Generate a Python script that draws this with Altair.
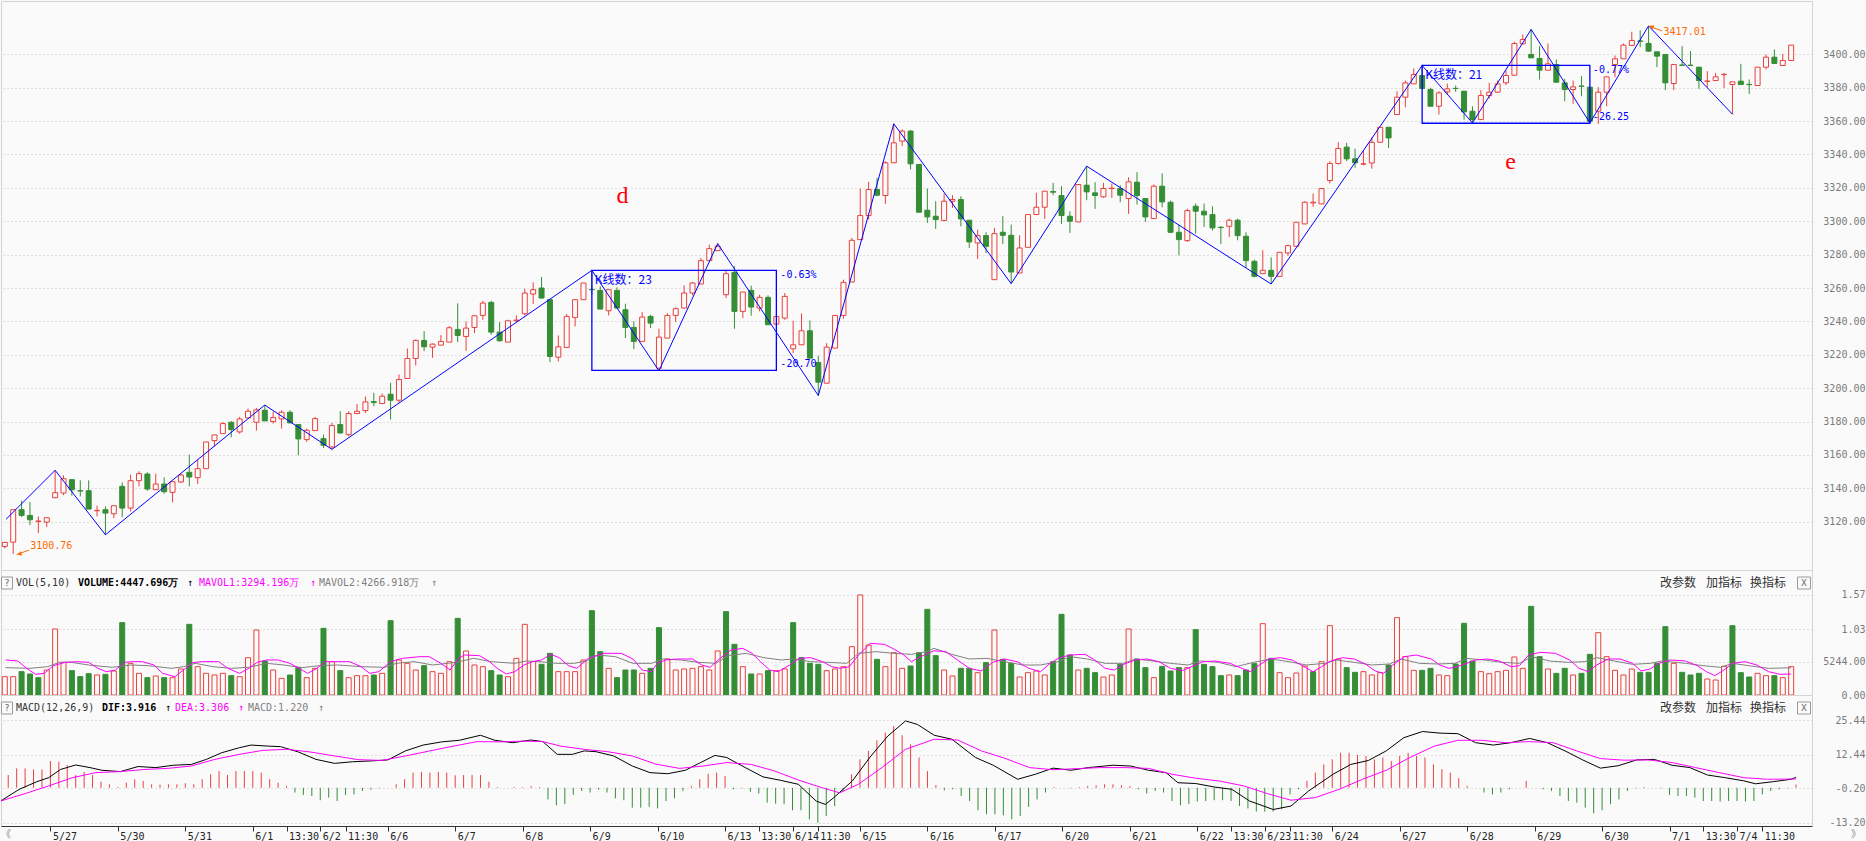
import json
import altair as alt
import pandas as pd

# ---------------- data ----------------
OPEN = [3105.2, 3107.8, 3127.2, 3123.8, 3120.2, 3119.8, 3134.4, 3137.2, 3145.2, 3138.6,
        3138.6, 3126.6, 3127.2, 3124.8, 3141.2, 3128.2, 3144.6, 3148.6, 3139.2, 3142.6,
        3137.6, 3143.8, 3149.6, 3146.4, 3151.8, 3168.6, 3172.8, 3179.6, 3173.8, 3182.2,
        3179.6, 3186.8, 3180.0, 3181.6, 3185.6, 3178.2, 3169.2, 3174.6, 3169.8, 3164.8,
        3178.2, 3172.2, 3184.8, 3186.6, 3192.0, 3190.8, 3196.4, 3192.8, 3205.8, 3217.8,
        3228.6, 3224.6, 3225.8, 3227.6, 3235.2, 3231.0, 3236.4, 3243.6, 3251.4, 3233.6,
        3227.6, 3240.4, 3244.6, 3256.4, 3260.0, 3253.0, 3218.6, 3224.4, 3242.4, 3253.0,
        3259.2, 3258.6, 3246.4, 3258.6, 3247.0, 3236.4, 3228.0, 3243.0, 3212.0, 3230.0,
        3243.6, 3248.0, 3257.0, 3262.4, 3276.4, 3282.4, 3256.0, 3269.4, 3246.0, 3258.6,
        3248.0, 3254.4, 3238.4, 3242.0, 3223.6, 3226.0, 3234.4, 3215.4, 3203.0, 3224.0,
        3243.6, 3263.6, 3289.0, 3303.4, 3319.0, 3315.4, 3335.0, 3348.0, 3354.0, 3334.0,
        3306.6, 3303.0, 3300.4, 3312.0, 3313.0, 3300.6, 3287.0, 3291.4, 3265.0, 3293.4,
        3291.6, 3269.0, 3284.4, 3304.0, 3308.4, 3317.8, 3315.4, 3303.0, 3299.6, 3321.6,
        3317.0, 3314.6, 3319.6, 3319.6, 3313.6, 3323.4, 3313.6, 3301.6, 3321.0, 3311.4,
        3293.4, 3288.4, 3309.0, 3306.0, 3304.0, 3296.4, 3297.0, 3300.6, 3291.0, 3276.0,
        3268.6, 3270.6, 3267.0, 3281.0, 3285.0, 3298.4, 3311.0, 3310.4, 3324.4, 3334.6,
        3344.4, 3337.4, 3334.2, 3334.9, 3347.3, 3356.3, 3363.9, 3374.3, 3382.3, 3387.3,
        3378.9, 3368.9, 3377.5, 3379.6, 3377.9, 3365.9, 3360.9, 3375.3, 3377.3, 3382.9,
        3387.5, 3406.3, 3399.9, 3397.5, 3390.5, 3393.9, 3382.9, 3378.9, 3381.0, 3380.3,
        3365.9, 3377.3, 3393.9, 3397.3, 3405.3, 3408.0, 3406.5, 3401.5, 3399.9, 3382.5,
        3393.6, 3393.5, 3392.3, 3383.8, 3384.3, 3387.8, 3381.9, 3383.9, 3382.0, 3381.3,
        3392.3, 3398.3, 3393.3, 3396.3]
HIGH = [3108.0, 3127.2, 3132.6, 3131.8, 3123.2, 3122.4, 3150.8, 3147.8, 3145.2, 3144.8,
        3144.8, 3129.6, 3129.2, 3129.6, 3143.6, 3148.2, 3150.2, 3149.6, 3148.8, 3146.6,
        3144.0, 3148.8, 3160.2, 3157.2, 3167.8, 3172.0, 3179.8, 3180.2, 3182.8, 3187.8,
        3188.2, 3189.8, 3186.0, 3186.8, 3186.8, 3178.2, 3175.8, 3182.8, 3172.2, 3179.2,
        3186.2, 3186.2, 3190.6, 3195.0, 3197.2, 3196.8, 3203.2, 3208.2, 3223.8, 3229.2,
        3234.2, 3226.8, 3231.8, 3237.2, 3250.8, 3240.0, 3243.4, 3252.4, 3252.4, 3239.6,
        3241.0, 3243.6, 3259.6, 3263.4, 3266.6, 3253.0, 3231.6, 3244.4, 3253.0, 3263.0,
        3270.6, 3261.0, 3259.0, 3260.4, 3250.6, 3240.0, 3245.6, 3244.0, 3235.6, 3245.0,
        3248.4, 3261.6, 3263.6, 3278.0, 3286.0, 3286.6, 3271.0, 3273.0, 3257.6, 3261.4,
        3256.0, 3255.6, 3243.0, 3257.0, 3240.4, 3244.8, 3240.6, 3219.4, 3227.0, 3243.6,
        3265.0, 3290.0, 3319.6, 3323.6, 3326.0, 3336.0, 3358.4, 3355.0, 3354.6, 3334.0,
        3319.6, 3312.0, 3316.4, 3315.6, 3315.0, 3300.6, 3295.0, 3293.4, 3296.0, 3303.0,
        3298.0, 3291.6, 3304.0, 3317.0, 3318.0, 3323.0, 3321.0, 3306.0, 3322.0, 3333.0,
        3323.4, 3323.0, 3322.6, 3321.6, 3326.4, 3329.4, 3313.6, 3322.0, 3328.6, 3312.4,
        3298.0, 3307.6, 3310.6, 3310.6, 3309.0, 3297.0, 3301.6, 3301.6, 3293.4, 3277.0,
        3282.6, 3278.4, 3281.4, 3286.0, 3299.4, 3312.0, 3316.6, 3319.6, 3336.0, 3347.4,
        3347.0, 3343.4, 3342.3, 3350.3, 3356.3, 3356.3, 3377.9, 3384.3, 3391.5, 3393.3,
        3380.0, 3377.9, 3382.5, 3381.3, 3377.9, 3368.9, 3378.5, 3382.9, 3384.3, 3390.3,
        3407.5, 3411.9, 3414.9, 3404.9, 3406.5, 3396.9, 3385.3, 3384.3, 3386.9, 3380.3,
        3380.3, 3386.5, 3399.3, 3406.5, 3413.5, 3414.3, 3417.01, 3401.5, 3399.9, 3393.9,
        3404.9, 3401.9, 3392.3, 3389.9, 3388.9, 3388.9, 3383.5, 3394.3, 3384.9, 3392.3,
        3399.9, 3402.9, 3400.3, 3405.5]
LOW = [3104.0, 3100.76, 3122.8, 3118.0, 3113.2, 3116.8, 3134.4, 3136.0, 3135.6, 3135.2,
       3127.6, 3123.2, 3112.2, 3122.2, 3122.8, 3126.2, 3141.2, 3138.6, 3139.2, 3136.8,
       3131.6, 3143.2, 3141.2, 3142.6, 3151.8, 3165.2, 3172.8, 3170.6, 3172.8, 3182.2,
       3174.6, 3180.4, 3178.8, 3175.8, 3179.2, 3159.8, 3167.8, 3174.6, 3164.2, 3163.4,
       3172.8, 3171.2, 3184.8, 3185.2, 3189.2, 3190.8, 3181.2, 3191.2, 3205.8, 3213.6,
       3222.2, 3218.2, 3225.8, 3227.6, 3227.6, 3222.4, 3233.0, 3241.0, 3232.0, 3228.0,
       3227.6, 3239.6, 3243.6, 3250.4, 3253.6, 3215.6, 3216.0, 3224.4, 3237.0, 3253.0,
       3256.0, 3247.4, 3243.6, 3248.0, 3230.0, 3223.4, 3228.0, 3236.0, 3210.4, 3230.0,
       3239.6, 3247.6, 3255.6, 3262.4, 3276.4, 3282.4, 3254.0, 3235.6, 3242.0, 3243.4,
       3246.0, 3238.0, 3238.4, 3241.0, 3221.0, 3226.0, 3218.0, 3195.6, 3203.0, 3224.0,
       3241.6, 3263.6, 3289.0, 3301.0, 3315.0, 3310.4, 3335.0, 3345.0, 3331.0, 3305.4,
       3299.0, 3295.4, 3300.4, 3308.0, 3297.0, 3284.0, 3277.4, 3281.0, 3265.0, 3286.4,
       3262.6, 3269.0, 3284.4, 3304.0, 3301.4, 3315.6, 3298.4, 3293.0, 3299.6, 3312.6,
       3307.4, 3314.0, 3314.0, 3311.4, 3304.4, 3310.0, 3299.6, 3301.6, 3308.4, 3293.0,
       3279.6, 3287.6, 3292.6, 3296.6, 3294.4, 3286.4, 3290.6, 3288.6, 3272.0, 3266.4,
       3268.6, 3262.4, 3267.0, 3279.4, 3285.0, 3298.4, 3308.6, 3310.4, 3322.6, 3334.0,
       3336.0, 3332.0, 3333.5, 3331.5, 3347.3, 3343.9, 3363.9, 3368.3, 3382.3, 3379.5,
       3368.9, 3363.9, 3375.9, 3377.5, 3360.9, 3358.9, 3360.9, 3373.5, 3376.9, 3381.5,
       3387.5, 3405.9, 3397.9, 3384.9, 3390.5, 3382.9, 3371.9, 3370.3, 3374.9, 3358.9,
       3358.3, 3368.9, 3386.3, 3397.3, 3405.3, 3404.3, 3401.5, 3392.3, 3378.5, 3378.5,
       3392.9, 3392.9, 3379.3, 3380.3, 3384.3, 3379.9, 3364.1, 3381.9, 3376.3, 3381.3,
       3390.9, 3394.5, 3393.3, 3396.3]
CLOSE = [3107.6, 3127.2, 3123.8, 3121.2, 3120.4, 3122.4, 3137.4, 3145.8, 3139.2, 3138.4,
         3127.6, 3126.8, 3125.2, 3129.6, 3128.2, 3144.6, 3148.8, 3139.6, 3142.6, 3138.0,
         3144.0, 3148.0, 3146.8, 3151.8, 3167.8, 3172.0, 3178.8, 3175.2, 3181.6, 3186.2,
         3187.0, 3180.4, 3182.4, 3185.6, 3179.2, 3169.6, 3174.8, 3181.8, 3165.8, 3177.6,
         3173.2, 3184.8, 3186.2, 3191.8, 3191.4, 3195.2, 3192.8, 3205.2, 3217.8, 3228.6,
         3224.8, 3226.4, 3228.0, 3236.2, 3231.6, 3236.0, 3243.4, 3251.0, 3233.6, 3228.4,
         3240.4, 3240.8, 3257.0, 3259.0, 3254.0, 3219.0, 3224.8, 3243.0, 3253.0, 3263.0,
         3259.0, 3247.4, 3259.0, 3248.0, 3236.4, 3228.0, 3242.6, 3239.0, 3230.6, 3243.6,
         3247.6, 3257.0, 3263.0, 3276.4, 3283.6, 3285.0, 3268.6, 3246.0, 3257.6, 3248.6,
         3254.4, 3238.0, 3243.0, 3255.0, 3226.0, 3234.4, 3218.0, 3203.6, 3224.6, 3243.6,
         3263.4, 3288.6, 3303.4, 3319.0, 3315.6, 3335.0, 3347.0, 3354.0, 3334.4, 3305.4,
         3302.6, 3301.0, 3312.0, 3313.0, 3301.4, 3287.6, 3291.4, 3285.0, 3292.6, 3291.6,
         3269.6, 3284.0, 3304.0, 3308.4, 3318.0, 3317.4, 3303.4, 3300.0, 3322.0, 3317.6,
         3315.4, 3319.6, 3319.8, 3315.6, 3323.6, 3315.4, 3302.6, 3321.0, 3311.6, 3293.4,
         3289.0, 3306.4, 3306.0, 3303.8, 3296.0, 3296.2, 3300.6, 3291.4, 3276.4, 3267.0,
         3270.6, 3267.0, 3281.4, 3285.4, 3299.4, 3311.4, 3311.4, 3319.6, 3334.6, 3343.6,
         3337.4, 3335.0, 3334.4, 3347.3, 3356.3, 3349.9, 3374.3, 3382.9, 3387.9, 3379.5,
         3368.9, 3376.9, 3379.3, 3379.5, 3365.5, 3360.9, 3375.3, 3377.3, 3382.3, 3387.3,
         3406.5, 3408.9, 3397.9, 3390.5, 3394.3, 3383.3, 3378.9, 3380.5, 3380.8, 3359.9,
         3377.3, 3386.5, 3397.3, 3405.5, 3408.3, 3407.8, 3401.9, 3398.9, 3382.9, 3393.9,
         3393.4, 3393.3, 3384.3, 3384.0, 3386.5, 3388.0, 3383.5, 3381.9, 3381.8, 3392.3,
         3398.3, 3394.5, 3396.3, 3405.5]

# volume in 万 and its colour (r = up, g = down)
VOLUME = [2878, 2878, 3663, 3297, 2721, 3925, 10361, 5128, 3820, 2878,
          3349, 3140, 3244, 3768, 11356, 4971, 3401, 2721, 2983, 2721,
          2721, 4082, 11094, 4448, 3401, 3140, 3401, 3035, 2878, 5861,
          10204, 5338, 3925, 2617, 3140, 4343, 2721, 4186, 10466, 5233,
          3820, 2721, 3035, 3035, 3140, 3401, 11670, 5495, 4971, 3925,
          4605, 3663, 3401, 5233, 12036, 6908, 4710, 4448, 3820, 3140,
          2878, 5756, 11094, 5233, 4814, 6541, 3663, 3663, 3663, 5495,
          13239, 6803, 4186, 2721, 3925, 3925, 3401, 4186, 10571, 5652,
          3925, 4082, 4186, 4448, 3925, 6908, 13083, 7954, 4448, 3297,
          3297, 3820, 3820, 4082, 11356, 5861, 4971, 4814, 3820, 4082,
          4448, 7588, 15699, 7850, 5599, 4448, 6646, 4186, 4553, 6646,
          13449, 6175, 3925, 2983, 4186, 4186, 3506, 5076, 10204, 5599,
          4971, 2826, 3506, 3768, 3140, 5233, 12664, 6280, 3925, 4186,
          3506, 2826, 3140, 4814, 10361, 5652, 4291, 2721, 4500, 3768,
          4291, 4291, 10257, 4814, 4448, 3035, 3140, 3035, 3925, 4919,
          11199, 5756, 3506, 2721, 3454, 4553, 3663, 5233, 10885, 5652,
          4291, 3558, 3663, 3140, 3506, 4710, 12141, 6018, 3872, 3872,
          4186, 3140, 3035, 4867, 11251, 5338, 3663, 3349, 3663, 3872,
          5966, 4186, 13920, 6018, 4082, 3401, 4186, 3140, 3401, 6384,
          9786, 6018, 3872, 3140, 4082, 3558, 3558, 4971, 10728, 4971,
          3558, 3140, 3401, 2512, 2355, 4500, 10885, 3506, 2826, 3401,
          3035, 3035, 2721, 4447.696]
VOL_DIR = ("rrgggrrrgg" "grgrgrrgrg" "rrgrrrrgrr" "rgrrggrrgr" "grrrgrgrrr"
           "grrrgrrrgg" "rrrrggrrrr" "ggrgggrggr" "rrrrrrggrg" "rgrrggggrr"
           "rrrrgrrrgg" "ggrrggrgrg" "grrrrgggrg" "grrgrggrgg" "grggggrggg"
           "rgrrrrgrrr" "ggrrrgrrrg" "grrgggrrrr" "rrggrggrgg" "rrrrrggggr"
           "gggrrrgggr" "rgrr")

# MAVOL1 (5) and MAVOL2 (10) read as (bar, 万) samples
MAVOL1 = [(0.1, 5495), (1.55, 5338), (2.6, 4186), (3.67, 3244), (4.7, 3401), (5.8, 4605), (7.2, 5128),
          (8.6, 5233), (10.0, 5128), (11.1, 4186), (12.1, 3663), (13.2, 3925), (14.25, 5128), (15.3, 5233),
          (16.4, 5233), (17.8, 4710), (18.8, 3401), (20.3, 2878), (21.3, 3925), (22.4, 5076), (23.4, 5233),
          (25.5, 5233), (26.6, 4186), (28.0, 3401), (29.1, 4186), (30.1, 5128), (31.2, 5495), (32.6, 5495),
          (34.0, 4971), (35.1, 4186), (36.1, 3401), (37.2, 4186), (38.2, 5233), (39.3, 5233), (41.1, 5233),
          (42.5, 4448), (43.5, 3401), (44.6, 3663), (46.0, 5233), (47.4, 5756), (49.5, 6018), (50.6, 6018),
          (52.0, 4971), (53.1, 3925), (54.1, 5756), (54.8, 6280), (56.6, 6175), (57.7, 5338), (58.7, 4186),
          (59.8, 3297), (60.8, 3663), (61.9, 4710), (62.9, 5233), (64.0, 5495), (65.1, 6384), (66.1, 5861),
          (67.2, 4605), (68.2, 4186), (69.6, 5756), (71.4, 6541), (73.5, 6541), (74.9, 5652), (76.0, 3925),
          (77.1, 3663), (77.8, 4971), (78.8, 5495), (80.2, 5652), (82.0, 5652), (83.1, 4710), (84.1, 4343),
          (85.2, 5652), (86.6, 7065), (88.0, 7326), (89.1, 6541), (90.1, 5233), (91.2, 3925), (92.2, 3663),
          (93.6, 4710), (94.7, 5756), (96.1, 5861), (97.5, 5233), (98.6, 4448), (99.6, 4186), (100.7, 4448),
          (101.8, 6280), (103.2, 8111), (104.9, 7954), (106.0, 7222), (107.1, 6384), (108.1, 5233),
          (109.2, 6018), (110.8, 6950), (112.2, 6803), (113.6, 5495), (115.0, 4186), (116.4, 3768),
          (117.8, 5128), (119.2, 5652), (120.7, 5233), (122.1, 4186), (123.5, 3663), (124.5, 4814),
          (125.6, 5756), (127.0, 6280), (128.8, 6384), (129.8, 5652), (131.2, 4186), (132.3, 3925),
          (133.4, 4814), (134.8, 5495), (136.2, 5652), (137.6, 5233), (139.0, 4186), (140.4, 3820),
          (141.8, 4605), (142.9, 5233), (144.3, 5338), (146.1, 4971), (147.5, 4186), (148.5, 3663),
          (149.6, 4710), (150.7, 5652), (152.1, 5861), (153.5, 5495), (154.9, 4448), (156.0, 3663),
          (157.0, 4448), (158.1, 5338), (159.5, 5861), (160.9, 5652), (162.3, 4814), (163.4, 3768),
          (164.4, 3401), (165.5, 4710), (166.9, 6018), (168.3, 6280), (170.1, 5652), (171.1, 4710),
          (172.2, 4186), (173.2, 4448), (174.3, 4971), (175.4, 5495), (176.8, 5652), (178.2, 5338),
          (179.6, 4448), (180.6, 4605), (181.7, 6280), (183.1, 6698), (184.9, 6541), (186.6, 5495),
          (187.7, 4186), (188.8, 3663), (189.8, 4710), (191.2, 5652), (192.6, 5652), (194.1, 4971),
          (195.1, 3768), (196.2, 4082), (197.2, 4971), (198.6, 5495), (200.4, 5338), (201.8, 4605),
          (202.9, 3663), (203.9, 3035), (205.0, 3925), (206.0, 4971), (207.5, 5233), (208.9, 4710),
          (210.3, 3663), (211.7, 3244), (213.0, 3294)]
MAVOL2 = [(0.1, 4291), (3.0, 4186), (5.1, 4448), (6.5, 5128), (7.9, 5128), (10.0, 4710), (12.8, 4343),
          (15.0, 4710), (17.1, 4605), (19.9, 4186), (21.3, 4448), (22.7, 4971), (24.8, 4448), (27.0, 4186),
          (29.1, 4343), (31.2, 4971), (33.3, 4710), (35.4, 4291), (37.5, 4605), (39.7, 4710), (42.5, 4448),
          (45.3, 4343), (46.7, 4971), (48.8, 5233), (51.0, 4710), (53.8, 5128), (55.9, 5756), (58.0, 5233),
          (60.8, 4971), (62.2, 5338), (63.7, 5233), (65.8, 4971), (67.9, 4971), (69.3, 5338), (70.7, 6280),
          (72.8, 6018), (74.9, 4971), (77.1, 4971), (78.5, 5652), (80.6, 5495), (82.7, 5128), (84.8, 4971),
          (86.2, 6175), (88.4, 6541), (90.5, 5861), (92.6, 5495), (94.0, 5652), (96.1, 5233), (98.2, 5128),
          (100.4, 4971), (101.8, 6541), (103.9, 6803), (106.0, 6541), (108.1, 6384), (109.9, 6803),
          (110.8, 7326), (112.9, 6384), (115.0, 5652), (117.1, 5756), (119.2, 5233), (121.4, 4710),
          (123.5, 4710), (125.6, 5233), (127.0, 6018), (129.1, 5652), (131.2, 4971), (133.4, 4971),
          (134.8, 5652), (136.9, 5338), (139.0, 4971), (141.1, 4710), (142.5, 5338), (144.7, 5128),
          (146.8, 4448), (148.9, 5128), (151.0, 5652), (153.1, 5233), (155.2, 4710), (157.4, 4971),
          (158.8, 5495), (160.9, 5128), (163.0, 4710), (165.1, 4867), (166.5, 5652), (168.7, 4971),
          (170.8, 4867), (172.9, 4971), (174.3, 5756), (176.4, 5495), (178.5, 5128), (180.6, 4971),
          (182.1, 6018), (184.2, 5338), (186.3, 5128), (188.4, 5233), (189.8, 5861), (191.9, 5338),
          (194.1, 4814), (196.2, 4971), (197.6, 5338), (200.4, 4971), (202.5, 4605), (204.6, 4343),
          (206.0, 4971), (208.2, 4553), (210.3, 4186), (213.0, 4267)]

# MACD histogram, one value per bar
HIST = [3.0, 4.8, 7.3, 7.3, 6.9, 6.9, 10.1, 9.8, 8.5, 4.8,
        6.0, 4.8, 2.3, 1.3, 0.3, 1.9, 3.2, 2.6, 1.3, 1.2,
        1.3, 1.3, 1.7, 1.3, 3.2, 5.1, 6.3, 4.8, 6.3, 6.3,
        6.3, 5.7, 3.2, 1.9, 0.7, -1.8, -2.7, -3.1, -4.7, -3.7,
        -5.0, -2.7, -2.5, -1.2, -0.7, -0.2, 0.05, 1.3, 3.2, 5.7,
        6.0, 5.7, 6.0, 5.7, 4.7, 4.8, 4.8, 4.8, 2.3, 0.3,
        0.05, 0.3, 0.3, 0.7, 0.3, -4.4, -6.6, -6.2, -2.7, -1.2,
        -1.8, -0.7, -1.8, -4.0, -4.7, -7.5, -7.5, -7.2, -7.8, -5.0,
        -4.0, -1.2, 0.7, 3.2, 5.3, 5.7, 4.4, -0.6, -0.2, -1.5,
        -2.2, -5.6, -6.0, -6.2, -8.5, -8.5, -11.9, -13.2, -10.6, -6.9,
        -1.2, 5.1, 10.7, 13.9, 17.9, 20.8, 23.3, 19.8, 16.4, 11.4,
        6.3, 1.0, -1.0, -0.6, -3.1, -5.0, -8.5, -10.0, -10.0, -10.4,
        -11.9, -10.6, -7.2, -4.4, -1.8, 0.3, 0.05, -0.2, 0.3, 0.7,
        0.9, 1.3, 1.3, 1.0, 0.7, -0.6, -2.2, -1.2, -1.8, -5.0,
        -6.6, -6.2, -5.2, -5.0, -4.7, -4.7, -5.0, -6.9, -7.8, -9.0,
        -9.0, -9.0, -8.1, -2.5, -0.6, 2.6, 5.7, 8.8, 10.7, 13.2,
        13.2, 12.4, 12.0, 10.7, 11.4, 10.1, 12.0, 13.2, 12.0, 11.4,
        8.8, 7.0, 5.7, 3.6, 0.7, 0.05, -1.8, -2.5, -1.8, -0.6,
        0.05, 2.6, 0.05, -0.6, -1.2, -3.1, -5.0, -5.6, -7.5, -9.6,
        -8.5, -6.2, -4.4, -1.2, -0.2, 0.3, 0.05, -0.2, -2.7, -3.1,
        -3.1, -3.7, -5.0, -5.0, -5.2, -5.0, -5.0, -5.2, -5.0, -2.5,
        -1.2, -0.6, -0.2, 1.22]

DIF = [(0.1, -5.0), (2.3, -0.6), (4.4, 2.3), (5.8, 3.8), (7.2, 6.9), (9.0, 8.6), (10.7, 7.6), (12.1, 6.6),
       (14.3, 6.1), (16.4, 8.0), (18.5, 7.6), (20.6, 8.5), (22.7, 8.8), (24.5, 10.7), (26.3, 13.2),
       (28.4, 15.1), (29.8, 16.1), (31.9, 15.7), (33.3, 15.5), (35.4, 13.5), (37.5, 10.7), (39.7, 9.2),
       (41.8, 9.8), (43.9, 10.1), (46.0, 10.5), (48.1, 13.9), (50.2, 16.1), (52.4, 17.3), (54.5, 17.9),
       (57.0, 19.8), (58.7, 17.9), (60.8, 17.0), (63.0, 18.0), (64.4, 17.4), (66.1, 12.6), (67.9, 12.6),
       (69.3, 13.9), (70.7, 13.6), (72.8, 12.0), (75.0, 8.2), (77.1, 5.7), (79.2, 5.3), (81.3, 6.6),
       (83.1, 9.5), (84.8, 12.2), (86.2, 11.4), (88.4, 7.6), (90.5, 4.1), (92.6, 2.8), (94.7, 1.3),
       (96.8, -5.0), (97.9, -6.3), (98.9, -3.7), (101.1, 2.6), (103.2, 11.6), (105.3, 19.5), (107.4, 25.2),
       (108.8, 23.9), (110.8, 19.8), (112.9, 18.3), (115.7, 11.4), (117.8, 8.5), (120.7, 3.2), (122.8, 5.1),
       (124.9, 7.4), (127.0, 6.6), (129.1, 7.6), (132.0, 8.5), (134.1, 8.2), (136.2, 6.6), (138.3, 5.7),
       (139.7, 1.9), (141.8, 1.6), (144.0, 0.3), (146.1, -0.6), (148.2, -5.0), (151.0, -8.2), (153.1, -6.9),
       (155.2, -1.2), (158.1, 5.1), (160.2, 8.8), (162.3, 10.3), (164.4, 13.9), (166.5, 18.9), (168.7, 21.2),
       (170.8, 20.6), (172.9, 20.4), (175.0, 17.0), (177.1, 16.1), (179.2, 17.0), (181.4, 18.6), (183.5, 17.0),
       (185.6, 13.9), (187.7, 10.5), (189.8, 7.4), (191.9, 8.3), (194.1, 10.5), (196.2, 10.7), (198.3, 8.5),
       (200.4, 7.6), (202.5, 4.8), (204.6, 3.8), (206.8, 2.6), (208.2, 1.5), (210.3, 2.3), (212.4, 3.2),
       (213.0, 3.916)]
DEA = [(0.1, -5.0), (3.0, -2.2), (5.8, 0.7), (8.6, 3.8), (11.4, 5.7), (14.3, 6.1), (17.1, 6.9), (19.9, 7.3),
       (22.7, 8.2), (25.5, 10.7), (28.4, 12.6), (31.2, 14.1), (34.0, 14.5), (36.8, 13.5), (39.7, 12.0),
       (42.5, 10.6), (45.3, 10.3), (48.1, 12.0), (51.0, 13.9), (53.8, 15.7), (56.6, 17.4), (59.4, 17.3),
       (62.2, 17.6), (64.4, 17.4), (66.5, 15.7), (69.3, 14.5), (72.1, 13.6), (75.0, 12.0), (77.8, 8.9),
       (80.6, 7.3), (83.4, 8.2), (86.2, 9.5), (89.1, 8.8), (91.9, 6.3), (94.7, 2.9), (97.5, 0.0), (99.6, -1.9),
       (101.8, 1.3), (104.6, 7.6), (107.4, 14.5), (110.8, 18.3), (113.6, 18.0), (116.4, 13.9), (119.2, 11.1),
       (122.1, 7.6), (124.9, 6.8), (127.7, 7.2), (130.5, 7.6), (133.4, 7.6), (136.2, 7.3), (139.0, 5.1),
       (141.8, 3.6), (144.7, 2.5), (147.5, 0.7), (150.3, -2.2), (153.1, -4.7), (156.0, -3.7), (158.8, -0.6),
       (161.6, 3.2), (164.4, 6.6), (167.2, 11.4), (170.1, 15.7), (172.9, 17.9), (175.7, 17.9), (178.5, 17.0),
       (181.4, 17.4), (184.2, 17.0), (187.0, 13.9), (189.8, 11.0), (192.6, 10.4), (195.5, 10.5), (198.3, 9.5),
       (201.1, 7.6), (203.9, 5.7), (206.8, 3.8), (209.6, 3.2), (213.0, 3.306)]

# zigzag pivots (bar, price) and the two boxes (bar1, bar2, top, bottom)
ZIGZAG = [(0.15, 3121.5), (6, 3150.8), (12, 3112.2), (31, 3189.9), (39, 3163.4), (70, 3270.6),
          (78, 3210.4), (85, 3286.6), (97, 3195.6), (106, 3358.4), (120, 3262.6), (129, 3333.0),
          (151, 3262.4), (169, 3393.3), (175, 3358.9), (182, 3414.9), (189, 3358.9), (196, 3417.01),
          (206, 3364.1)]
BOXES = [(70, 92, 3270.6, 3210.7), (169, 189, 3393.4, 3358.7)]

PRICE_TICKS = [3120, 3140, 3160, 3180, 3200, 3220, 3240, 3260, 3280, 3300, 3320, 3340, 3360, 3380, 3400]
VOL_TICKS = [0, 5244, 10300, 15700]
VOL_TICK_TEXT = ["0.00", "5244.00", "1.03", "1.57"]
MACD_TICKS = [-13.2, -0.2, 12.44, 25.44]
MACD_TICK_TEXT = ["-13.20", "-0.20", "12.44", "25.44"]
X_TICKS = [6, 14, 22, 30, 34, 38, 41, 46, 54, 62, 70, 78, 86, 90, 94, 97, 102, 110, 118, 126,
           134, 142, 146, 150, 153, 158, 166, 174, 182, 190, 198, 202, 206, 209]
X_TICK_TEXT = ["5/27", "5/30", "5/31", "6/1", "13:30", "6/2", "11:30", "6/6", "6/7", "6/8",
               "6/9", "6/10", "6/13", "13:30", "6/14", "11:30", "6/15", "6/16", "6/17", "6/20",
               "6/21", "6/22", "13:30", "6/23", "11:30", "6/24", "6/27", "6/28", "6/29", "6/30",
               "7/1", "13:30", "7/4", "11:30"]

# ---------------- style ----------------
BG = "#fafafa"
RED = "#e8413c"
GREEN = "#358e35"
BLUE = "#0000ff"
ORANGE = "#ff6a00"
MAG = "#ff00ff"
GRAY = "#808080"
GRID = "#c4c4c4"
AXC = "#7a7a7a"
MONO = "DejaVu Sans Mono"
CJK = "Noto Sans CJK SC"

W = 1811
H_PRICE, H_VOL, H_MACD = 569, 125, 131
xs = alt.Scale(domain=[0.1423, 214.89], nice=False, zero=False)
ps = alt.Scale(domain=[3091.1, 3431.93], nice=False, zero=False)
vs = alt.Scale(domain=[0, 19623], nice=False, zero=False)
ms = alt.Scale(domain=[-14.42, 34.98], nice=False, zero=False)


def yaxis(values, expr=None, fmt=None):
    kw = dict(orient="right", values=values, grid=True, gridColor=GRID, gridDash=[1, 3],
              domain=False, ticks=False, labelAlign="right", labelBaseline="middle",
              labelPadding=53, labelFont=MONO, labelFontSize=10, labelColor=AXC,
              labelFlush=4, labelOverlap=False, title=None)
    if expr:
        kw["labelExpr"] = expr
    if fmt:
        kw["format"] = fmt
    return alt.Axis(**kw)


def lookup_expr(vals, texts):
    return f"{json.dumps(texts)}[indexof({json.dumps(vals)}, datum.value)]"


P_AXIS = yaxis(PRICE_TICKS, fmt=".2f")
V_AXIS = yaxis(VOL_TICKS, expr=lookup_expr(VOL_TICKS, VOL_TICK_TEXT))
M_AXIS = yaxis(MACD_TICKS, expr=lookup_expr(MACD_TICKS, MACD_TICK_TEXT))
X_AXIS = alt.Axis(values=X_TICKS, labelExpr=lookup_expr(X_TICKS, X_TICK_TEXT), labelAlign="left",
                  labelBaseline="top", labelOffset=2, labelPadding=0, tickSize=5, tickColor="#333333",
                  domainColor="#333333", labelFont=MONO, labelFontSize=10, labelColor="#222222",
                  grid=False, title=None, labelOverlap=False, labelFlush=False, labelBound=False)


def X(axis=None, field="k"):
    return alt.X(f"{field}:Q", scale=xs, axis=axis)


def PY(field):
    return alt.Y(f"{field}:Q", scale=ps, axis=P_AXIS)


def VY(field):
    return alt.Y(f"{field}:Q", scale=vs, axis=V_AXIS)


def MY(field):
    return alt.Y(f"{field}:Q", scale=ms, axis=M_AXIS)


def htext(t, x, y, color, size=10, font=MONO, weight="normal", align="left"):
    return alt.Chart(pd.DataFrame({"t": [t]})).mark_text(
        align=align, baseline="middle", font=font, fontSize=size, fontWeight=weight, color=color
    ).encode(x=alt.value(x), y=alt.value(y), text="t:N")


def hbox(x1, x2, y1, y2, color="#9a9a9a"):
    return alt.Chart(pd.DataFrame({"a": [0]})).mark_rect(filled=False, color=color, strokeWidth=1).encode(
        x=alt.value(x1), x2=alt.value(x2), y=alt.value(y1), y2=alt.value(y2))


def ptext(k, p, t, color, size=10, font=MONO, dx=0, dy=0, align="left", baseline="middle"):
    return alt.Chart(pd.DataFrame({"k": [k], "p": [p], "t": [t]})).mark_text(
        align=align, baseline=baseline, font=font, fontSize=size, color=color, dx=dx, dy=dy
    ).encode(x=X(), y=PY("p"), text="t:N")


def header_buttons(y):
    return [htext("改参数", 1659, y, "#333333", 12, CJK),
            htext("加指标", 1705, y, "#333333", 12, CJK),
            htext("换指标", 1749, y, "#333333", 12, CJK),
            hbox(1796.5, 1809.5, y - 6, y + 6),
            htext("X", 1803, y, "#666666", 9, MONO, align="center"),
            hbox(0.5, 11.5, y - 6, y + 6),
            htext("?", 6, y, "#666666", 9, MONO, align="center")]


# ---------------- price panel ----------------
cdf = pd.DataFrame({"k": list(range(len(OPEN))), "o": OPEN, "h": HIGH, "l": LOW, "c": CLOSE})
cdf["sc"] = [RED if c >= o else GREEN for o, c in zip(OPEN, CLOSE)]
cdf["fc"] = [BG if c >= o else GREEN for o, c in zip(OPEN, CLOSE)]

wick = alt.Chart(cdf).mark_rule(strokeWidth=1, clip=True).encode(
    x=X(), y=PY("l"), y2="h:Q", color=alt.Color("sc:N", scale=None))
body = alt.Chart(cdf).mark_bar(size=5, strokeWidth=1, clip=True).encode(
    x=X(), y=PY("o"), y2="c:Q",
    fill=alt.Fill("fc:N", scale=None), stroke=alt.Stroke("sc:N", scale=None))

zdf = pd.DataFrame(ZIGZAG, columns=["k", "p"])
zig = alt.Chart(zdf).mark_line(color=BLUE, strokeWidth=1, clip=True).encode(
    x=X(), y=PY("p"), order="k:Q")

bdf = pd.DataFrame(BOXES, columns=["k1", "k2", "p1", "p2"])
boxes = alt.Chart(bdf).mark_rect(filled=False, color=BLUE, strokeWidth=1.3, clip=True).encode(
    x=X(field="k1"), x2="k2:Q", y=PY("p1"), y2="p2:Q")

adf = pd.DataFrame([(196.0, 3417.01, 197.6, 3414.0), (1.4, 3100.4, 2.9, 3103.0)],
                   columns=["k1", "p1", "k2", "p2"])
arrows = alt.Chart(adf).mark_rule(color=ORANGE, strokeWidth=1).encode(
    x=X(field="k1"), x2="k2:Q", y=PY("p1"), y2="p2:Q")
head1 = alt.Chart(pd.DataFrame({"k": [196.35], "p": [3416.6]})).mark_point(
    shape="triangle-left", filled=True, size=22, color=ORANGE, angle=21, opacity=1
).encode(x=X(), y=PY("p"))
head2 = alt.Chart(pd.DataFrame({"k": [1.75], "p": [3100.6]})).mark_point(
    shape="triangle-left", filled=True, size=22, color=ORANGE, angle=339, opacity=1
).encode(x=X(), y=PY("p"))

price_texts = [
    ptext(70, 3270.6, "K线数：23", BLUE, 12, CJK, dx=3, dy=10),
    ptext(92, 3270.6, "-0.63%", BLUE, 10, MONO, dx=4, dy=5),
    ptext(92, 3210.7, "-20.70", BLUE, 10, MONO, dx=4, dy=-6),
    ptext(169, 3393.4, "K线数：21", BLUE, 12, CJK, dx=3, dy=10),
    ptext(189, 3393.4, "-0.77%", BLUE, 10, MONO, dx=3, dy=5),
    ptext(189, 3358.7, "-26.25", BLUE, 10, MONO, dx=3, dy=-6),
    ptext(196, 3417.01, "3417.01", ORANGE, 10, MONO, dx=15, dy=6),
    ptext(1, 3100.76, "3100.76", ORANGE, 10, MONO, dx=17, dy=-8),
    ptext(73.66, 3310.9, "d", "#ff0000", 24, "Liberation Serif", align="center", baseline="alphabetic"),
    ptext(179.56, 3331.3, "e", "#ff0000", 24, "Liberation Serif", align="center", baseline="alphabetic"),
]

price = alt.layer(wick, body, zig, boxes, arrows, head1, head2, *price_texts).properties(
    width=W, height=H_PRICE)

# ---------------- volume panel ----------------
vdf = pd.DataFrame({"k": list(range(len(VOLUME))), "v": VOLUME, "d": list(VOL_DIR)})
vdf["sc"] = [RED if d == "r" else GREEN for d in vdf["d"]]
vdf["fc"] = [BG if d == "r" else GREEN for d in vdf["d"]]
vbars = alt.Chart(vdf).mark_bar(size=5, strokeWidth=1, clip=True).encode(
    x=X(), y=VY("v"), y2=alt.datum(0),
    fill=alt.Fill("fc:N", scale=None), stroke=alt.Stroke("sc:N", scale=None))
ma1 = alt.Chart(pd.DataFrame(MAVOL1, columns=["k", "v"])).mark_line(color=MAG, strokeWidth=1, clip=True).encode(
    x=X(), y=VY("v"), order="k:Q")
ma2 = alt.Chart(pd.DataFrame(MAVOL2, columns=["k", "v"])).mark_line(color=GRAY, strokeWidth=1, clip=True).encode(
    x=X(), y=VY("v"), order="k:Q")

vy = 13
vol_head = [
    htext("VOL(5,10)", 15, vy, "#333333"),
    htext("VOLUME:4447.696万", 77, vy, "#000000", weight="bold"),
    htext("↑", 186, vy, "#000000"),
    htext("MAVOL1:3294.196万", 198, vy, MAG),
    htext("↑", 309, vy, MAG),
    htext("MAVOL2:4266.918万", 318, vy, GRAY),
    htext("↑", 430, vy, GRAY),
] + header_buttons(vy)

vol = alt.layer(vbars, ma2, ma1, *vol_head).properties(width=W, height=H_VOL)

# ---------------- MACD panel ----------------
hdf = pd.DataFrame({"k": list(range(len(HIST))), "h": HIST})
hdf["hc"] = [RED if h >= 0 else GREEN for h in HIST]
hist = alt.Chart(hdf).mark_rule(strokeWidth=1, clip=True).encode(
    x=X(X_AXIS), y=MY("h"), y2=alt.datum(0), color=alt.Color("hc:N", scale=None))
dif = alt.Chart(pd.DataFrame(DIF, columns=["k", "m"])).mark_line(color="#000000", strokeWidth=1, clip=True).encode(
    x=X(X_AXIS), y=MY("m"), order="k:Q")
dea = alt.Chart(pd.DataFrame(DEA, columns=["k", "m"])).mark_line(color=MAG, strokeWidth=1, clip=True).encode(
    x=X(X_AXIS), y=MY("m"), order="k:Q")

my = 13
macd_head = [
    htext("MACD(12,26,9)", 15, my, "#333333"),
    htext("DIF:3.916", 101, my, "#000000", weight="bold"),
    htext("↑", 164, my, "#000000"),
    htext("DEA:3.306", 174, my, MAG),
    htext("↑", 237, my, MAG),
    htext("MACD:1.220", 247, my, GRAY),
    htext("↑", 317, my, GRAY),
    htext("《", 5, H_MACD + 9, "#888888", 10, CJK, align="center"),
    htext("》", 1855, H_MACD + 9, "#888888", 10, CJK, align="center"),
] + header_buttons(my)

macd = alt.layer(hist, dif, dea, *macd_head).properties(width=W, height=H_MACD)

chart = alt.vconcat(price, vol, macd, spacing=0, bounds="flush", padding=0, background=BG).configure_view(
    stroke="#d4d4d4", strokeWidth=1)

chart.save("out.html", embed_options={"renderer": "svg", "actions": False})
